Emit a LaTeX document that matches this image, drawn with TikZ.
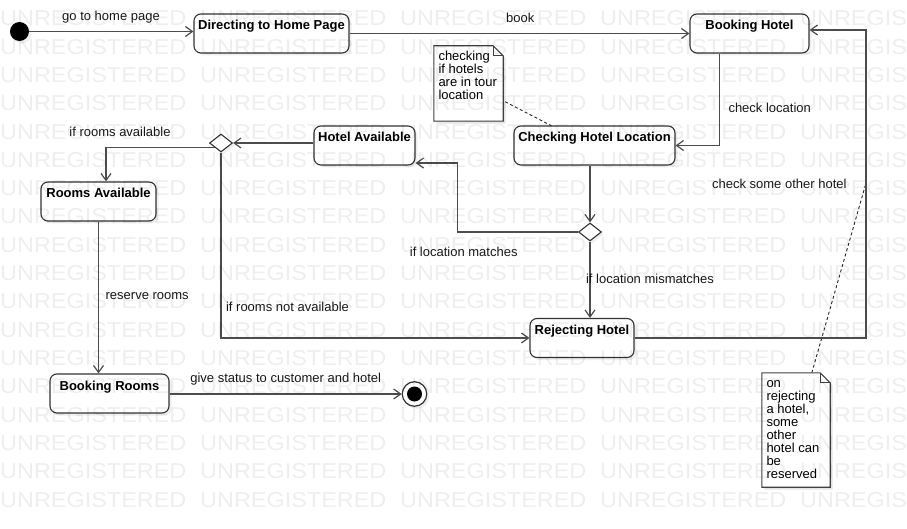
\documentclass[tikz,border=0pt]{standalone}
\usepackage{fontspec}
\setmainfont{Liberation Sans}
\usetikzlibrary{arrows.meta,shapes.geometric,shadows,calc}
\begin{document}
\begin{tikzpicture}[x=1pt,y=-1pt,
  font=\fontsize{13}{15}\selectfont,
  shadowed/.style={drop shadow={shadow xshift=2.5pt,shadow yshift=-2.5pt,opacity=0.12}},
  statebox/.style={draw=black!80, line width=1.1pt, fill=white, rounded corners=7pt,
    inner xsep=0pt, inner ysep=0pt, text height=16pt, text depth=23pt,
    font=\fontsize{13}{15}\selectfont\bfseries, shadowed},
  decision/.style={shape=diamond, draw=black!80, line width=1.1pt, fill=white,
    minimum width=23pt, minimum height=18pt, inner sep=0pt, shadowed},
  lbl/.style={inner sep=0pt, text=black!90},
  arr/.style={draw=black!70, line width=1.2pt, -{Straight Barb[length=7pt,width=10pt]}},
  dashline/.style={draw=black!85, line width=0.9pt, dash pattern=on 3pt off 2.5pt},
  notebox/.style={inner sep=0pt},
  notedraw/.style={draw=black!75, line width=1.1pt, fill=white},
  notetext/.style={align=left, inner sep=0pt, font=\fontsize{13}{13}\selectfont},
  wm/.style={inner sep=0pt, text=black, text opacity=0.065, font=\fontsize{21.5}{21.5}\selectfont}
]
\useasboundingbox (0,0) rectangle (907,529);
\fill[white] (0,0) rectangle (907,529);

% notes (placeholders)
\node[notebox, minimum width=69pt, minimum height=75pt] (n1) at (468.5,83.5) {};
\node[notebox, minimum width=68pt, minimum height=114pt] (n2) at (796,430) {};
\coordinate (na) at (866,183);
\coordinate (lp) at (866,30);

% dashed anchors
\draw[dashline] ($(n1.north east)+(2,56)$) -- (552,126) coordinate (chkTop);
\draw[dashline] ($(n2.north west)+(50,0)$) -- (na);

% note shapes
\foreach \n in {n1,n2} {
  \fill[black, opacity=0.1] ($(\n.north west)+(2.5,2.5)$) -- ($(\n.north east)+(-7.5,2.5)$) -- ($(\n.north east)+(2.5,12.5)$) -- ($(\n.south east)+(2.5,2.5)$) -- ($(\n.south west)+(2.5,2.5)$) -- cycle;
  \draw[notedraw] (\n.north west) -- ($(\n.north east)+(-10,0)$) -- ($(\n.north east)+(0,10)$) -- (\n.south east) -- (\n.south west) -- cycle;
  \draw[notedraw, fill=none] ($(\n.north east)+(-10,0)$) -- ($(\n.north east)+(-10,10)$) -- ($(\n.north east)+(0,10)$);
}
\node[notetext, anchor=north west] (n1t) at ($(n1.north west)+(4.5,4.5)$) {\rule{0pt}{10pt}checking\\if hotels\\are in tour\\location};
\node[notetext, anchor=north west] (n2t) at ($(n2.north west)+(4.5,4.4)$) {\rule{0pt}{10pt}on\\rejecting\\a hotel,\\some\\other\\hotel can\\be\\reserved};

% states
\node[circle, fill=black, minimum size=19pt, inner sep=0pt, shadowed] (ini) at (19.5,31.5) {};
\node[statebox, minimum width=155pt] (home) at (271.5,33.5) {Directing to Home Page};
\node[statebox, minimum width=119pt] (bh) at (749.5,33.5) {Booking Hotel};
\node[statebox, minimum width=161pt] (chk) at (594.5,145.5) {Checking Hotel Location};
\node[statebox, minimum width=101pt] (ha) at (364.5,145.5) {Hotel Available};
\node[statebox, minimum width=115pt] (ra) at (98.5,201.5) {Rooms Available};
\node[statebox, minimum width=119pt] (br) at (109.5,393.5) {Booking Rooms};
\node[statebox, minimum width=104pt] (rj) at (582,338) {Rejecting Hotel};
\node[decision] (d1) at (221,143) {};
\node[decision] (d2) at (590,232) {};
\node[circle, draw=black!80, line width=1.2pt, fill=white, minimum size=24.5pt, inner sep=0pt, shadowed] (fin) at (414.5,394) {};
\fill[black] (fin.center) circle[radius=7.5pt];

\coordinate (hain) at ($(ha.south east)+(0,-2.5)$);
\coordinate (rain) at ($(ra.north)+(7.5,0)$);

% connectors
\draw[arr] (ini.east) -- (ini.east -| home.west);
\draw[arr] (home.east) -- (bh.west);
\draw[arr] ($(bh.south west)+(30,0)$) |- (chk.east);
\draw[arr] (d2.north |- chk.south) -- (d2.north);
\draw[arr] (d2.south) -- (d2.south |- rj.north);
\draw[arr] (d2.west) -- ++(-120.5,0) |- (hain);
\draw[arr] (ha.west |- d1.east) -- (d1.east);
\draw[arr] (d1.south west) -| (rain);
\draw[arr] (d1.south) |- (rj.west);
\draw[arr] (ra.south) -- (ra.south |- br.north);
\draw[arr] (br.east |- fin.west) -- (fin.west);
\draw[arr] (rj.east) -| (lp) -- (lp -| bh.east);

% labels
\node[lbl] (l1) at (111,16.7) {go to home page};
\node[lbl] (l2) at (520.3,17.5) {book};
\node[lbl] (l3) at (769.7,108) {check location};
\node[lbl] (l4) at (120,131.7) {if rooms available};
\node[lbl] (l5) at (779.3,183.8) {check some other hotel};
\node[lbl] (l6) at (463.7,251.6) {if location matches};
\node[lbl] (l7) at (650,278.5) {if location mismatches};
\node[lbl] (l8) at (147.2,295.7) {reserve rooms};
\node[lbl] (l9) at (287.5,307.2) {if rooms not available};
\node[lbl] (l10) at (285.7,379.5) {give status to customer and hotel};

% watermark
\foreach \r in {0,...,17} {
  \foreach \c in {0,...,4} {
    \node[wm, anchor=base west] at (200*\c, 18.4+28.3*\r+7.5) {\scalebox{1.09}[1]{UNREGISTERED}};
  }
}
\end{tikzpicture}
\end{document}
